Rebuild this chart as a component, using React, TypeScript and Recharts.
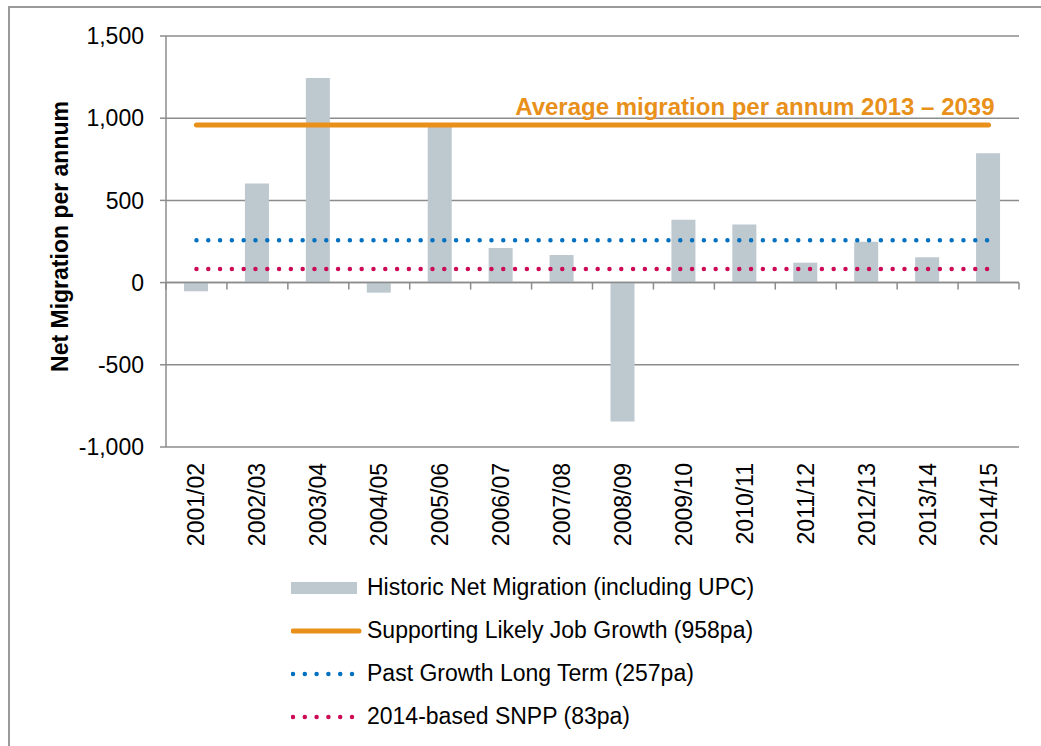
import {
  Bar,
  CartesianGrid,
  ComposedChart,
  LabelList,
  Legend,
  Line,
  ReferenceLine,
  XAxis,
  YAxis,
} from "recharts";

const periods = [
  "2001/02",
  "2002/03",
  "2003/04",
  "2004/05",
  "2005/06",
  "2006/07",
  "2007/08",
  "2008/09",
  "2009/10",
  "2010/11",
  "2011/12",
  "2012/13",
  "2013/14",
  "2014/15",
];
const historicNet = [-53, 603, 1245, -61, 955, 210, 168, -845, 383, 354, 121, 249, 154, 787];
const jobGrowthPa = 958;
const pastGrowthPa = 257;
const snppPa = 83;
const yTicks = [-1000, -500, 0, 500, 1000, 1500];

const FONT = '"Liberation Sans", Arial, sans-serif';
const GREY_BAR = "#BDC8CF";
const ORANGE = "#E8901A";
const BLUE = "#0070C0";
const RED = "#CC0A55";
const AXIS = "#8C8C8C";

const rows = periods.map((period, i) => ({
  period,
  historic: historicNet[i],
  job: jobGrowthPa,
  past: pastGrowthPa,
  snpp: snppPa,
}));

const legendItems = [
  { kind: "bar", color: GREY_BAR, label: "Historic Net Migration (including UPC)" },
  { kind: "line", color: ORANGE, label: `Supporting Likely Job Growth (${jobGrowthPa}pa)` },
  { kind: "dots", color: BLUE, label: `Past Growth Long Term (${pastGrowthPa}pa)` },
  { kind: "dots", color: RED, label: `2014-based SNPP (${snppPa}pa)` },
];

function renderLegend() {
  return (
    <div style={{ fontFamily: FONT, fontSize: 23, color: "#000", paddingTop: 2 }}>
      {legendItems.map((item) => (
        <div key={item.label} style={{ display: "flex", alignItems: "center", height: 43 }}>
          <svg width={76} height={20} style={{ flex: "none" }}>
            {item.kind === "bar" && <rect x={0} y={4} width={66} height={12} fill={item.color} />}
            {item.kind === "line" && (
              <line x1={2} y1={10} x2={68} y2={10} stroke={item.color} strokeWidth={5} strokeLinecap="round" />
            )}
            {item.kind === "dots" && (
              <line
                x1={2}
                y1={10}
                x2={62}
                y2={10}
                stroke={item.color}
                strokeWidth={4.5}
                strokeLinecap="round"
                strokeDasharray="0 11.8"
              />
            )}
          </svg>
          <span>{item.label}</span>
        </div>
      ))}
    </div>
  );
}

function XTick(props: any) {
  const { x, y, payload } = props;
  return (
    <text
      x={x}
      y={y}
      transform={`rotate(-90, ${x}, ${y})`}
      textAnchor="end"
      dominantBaseline="central"
      fontFamily={FONT}
      fontSize={23}
      fill="#000"
    >
      {payload.value}
    </text>
  );
}

function ZeroAxis(props: any) {
  const { x1, y1, x2 } = props;
  const n = periods.length;
  const ticks = [];
  for (let i = 0; i <= n; i++) {
    const tx = x1 + ((x2 - x1) * i) / n;
    ticks.push(<line key={i} x1={tx} y1={y1} x2={tx} y2={y1 + 7} stroke={AXIS} strokeWidth={1.5} />);
  }
  return (
    <g>
      <line x1={x1} y1={y1} x2={x2} y2={y1} stroke={AXIS} strokeWidth={1.5} />
      {ticks}
    </g>
  );
}

function YTitle(props: any) {
  const { viewBox } = props;
  const cx = viewBox.x + 50;
  const cy = viewBox.y + viewBox.height / 2 - 5;
  return (
    <text
      x={cx}
      y={cy}
      transform={`rotate(-90, ${cx}, ${cy})`}
      textAnchor="middle"
      dominantBaseline="central"
      fontFamily={FONT}
      fontSize={23}
      fontWeight="bold"
      fill="#000"
    >
      Net Migration per annum
    </text>
  );
}

function AvgLabel(props: any) {
  const { x, y, index } = props;
  if (index !== periods.length - 1) return null;
  return (
    <text
      x={x + 6}
      y={y - 10}
      textAnchor="end"
      fontFamily={FONT}
      fontSize={24}
      fontWeight="bold"
      fill={ORANGE}
    >
      Average migration per annum 2013 – 2039
    </text>
  );
}

export default function App() {
  return (
    <div
      style={{
        position: "absolute",
        left: 8,
        top: 6,
        width: 1031,
        height: 738,
        borderTop: "2px solid #9a9a9a",
        borderLeft: "2px solid #9a9a9a",
        overflow: "hidden",
      }}
    >
      <ComposedChart
        width={1031}
        height={736}
        data={rows}
        margin={{ top: 28, right: 22, bottom: 0, left: 0 }}
        style={{ fontFamily: FONT }}
      >
        <CartesianGrid vertical={false} stroke={AXIS} strokeWidth={1.5} />
        <XAxis
          dataKey="period"
          axisLine={false}
          tickLine={false}
          tickSize={6}
          tickMargin={10}
          height={117}
          interval={0}
          tick={<XTick />}
        />
        <YAxis
          width={156}
          domain={[-1000, 1500]}
          ticks={yTicks}
          interval={0}
          allowDataOverflow
          axisLine={{ stroke: AXIS, strokeWidth: 1.5 }}
          tickLine={{ stroke: AXIS, strokeWidth: 1.5 }}
          tickSize={6}
          tickMargin={16}
          tick={{ fill: "#000", fontSize: 23, fontFamily: FONT }}
          tickFormatter={(v: number) => v.toLocaleString("en-US")}
          label={{ content: <YTitle /> }}
        />
        <Legend
          verticalAlign="bottom"
          height={180}
          content={renderLegend}
          wrapperStyle={{ left: 281, width: 560 }}
        />
        <Bar dataKey="historic" fill={GREY_BAR} barSize={24} isAnimationActive={false} />
        <ReferenceLine y={0} shape={<ZeroAxis />} />
        <Line
          dataKey="job"
          stroke={ORANGE}
          strokeWidth={5}
          strokeLinecap="round"
          dot={false}
          activeDot={false}
          isAnimationActive={false}
        >
          <LabelList dataKey="job" content={<AvgLabel />} />
        </Line>
        <Line
          dataKey="past"
          stroke={BLUE}
          strokeWidth={4.5}
          strokeLinecap="round"
          strokeDasharray="0 11.8"
          dot={false}
          activeDot={false}
          isAnimationActive={false}
        />
        <Line
          dataKey="snpp"
          stroke={RED}
          strokeWidth={4.5}
          strokeLinecap="round"
          strokeDasharray="0 11.8"
          dot={false}
          activeDot={false}
          isAnimationActive={false}
        />
      </ComposedChart>
    </div>
  );
}
